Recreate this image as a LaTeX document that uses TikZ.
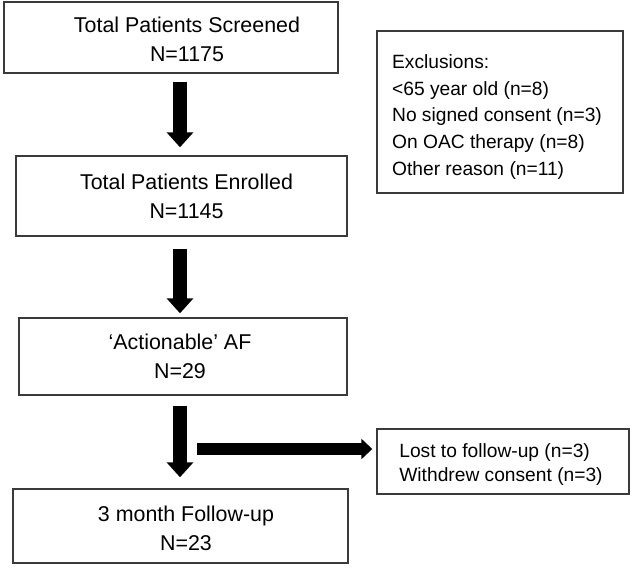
\documentclass[tikz,border=0pt]{standalone}
\usepackage{fontspec}
\setmainfont{Liberation Sans}
\usepackage{xcolor}
\definecolor{boxgray}{RGB}{58, 58, 58}
\usetikzlibrary{arrows.meta, positioning, shadows}

\begin{document}
\begin{tikzpicture}[
        x=1pt, y=-1pt,
        box/.style={rectangle, draw=boxgray, line width=1.4pt, fill=white, inner sep=0pt,
            drop shadow={shadow xshift=1.2pt, shadow yshift=-1.2pt, fill=black!20}},
        boxtext/.style={align=center, inner sep=0pt, font=\fontsize{21.4}{29}\selectfont},
        sidetext/.style={align=left, inner sep=0pt, font=\fontsize{19.2}{26.6}\selectfont},
        fatarrow/.style={line width=14pt, -{Triangle[width=26pt, length=15pt]}, color=black},
        thinarrow/.style={line width=12pt, -{Triangle[width=20pt, length=11pt]}, color=black}
    ]

        \useasboundingbox (0,0) rectangle (633,568);

        \node[box, minimum width=334pt, minimum height=71pt,
            label={[boxtext, xshift=16pt, yshift=-2pt]center:Total Patients Screened\\N=1175}] (screened) at (171,37.5) {};
        \node[box, minimum width=331pt, minimum height=80pt,
            label={[boxtext, xshift=5pt]center:Total Patients Enrolled\\N=1145}] (enrolled) at (181.5,196) {};
        \node[box, minimum width=328pt, minimum height=77pt,
            label={[boxtext, xshift=-3pt]center:‘Actionable’ AF\\N=29}] (actionable) at (183,356.5) {};
        \node[box, minimum width=335pt, minimum height=74pt,
            label={[boxtext, xshift=5.5pt, yshift=-2pt]center:3 month Follow-up\\N=23}] (followup) at (180.5,526) {};

        \node[box, minimum width=246pt, minimum height=162pt,
            label={[sidetext, xshift=-3pt, yshift=-5pt]center:Exclusions:\\<65 year old (n=8)\\No signed consent (n=3)\\On OAC therapy (n=8)\\Other reason (n=11)}] (exclusions) at (500,112) {};
        \node[box, minimum width=252pt, minimum height=65pt,
            label={[sidetext, font=\fontsize{19.2}{24}\selectfont, xshift=-2pt, yshift=-3pt]center:Lost to follow-up (n=3)\\Withdrew consent (n=3)}] (lost) at (503,461.5) {};

        \coordinate (spine) at (180,0);
        \coordinate (branch) at (197,449);

        \draw[fatarrow, shorten <=8pt, shorten >=8pt] (screened.south -| spine) -- (enrolled.north -| spine);
        \draw[fatarrow, shorten <=12pt, shorten >=4pt] (enrolled.south -| spine) -- (actionable.north -| spine);
        \draw[fatarrow, shorten <=10pt, shorten >=11pt] (actionable.south -| spine) -- (followup.north -| spine);
        \draw[thinarrow, shorten >=4pt] (branch) -- (lost.west |- branch);

    \end{tikzpicture}
\end{document}
